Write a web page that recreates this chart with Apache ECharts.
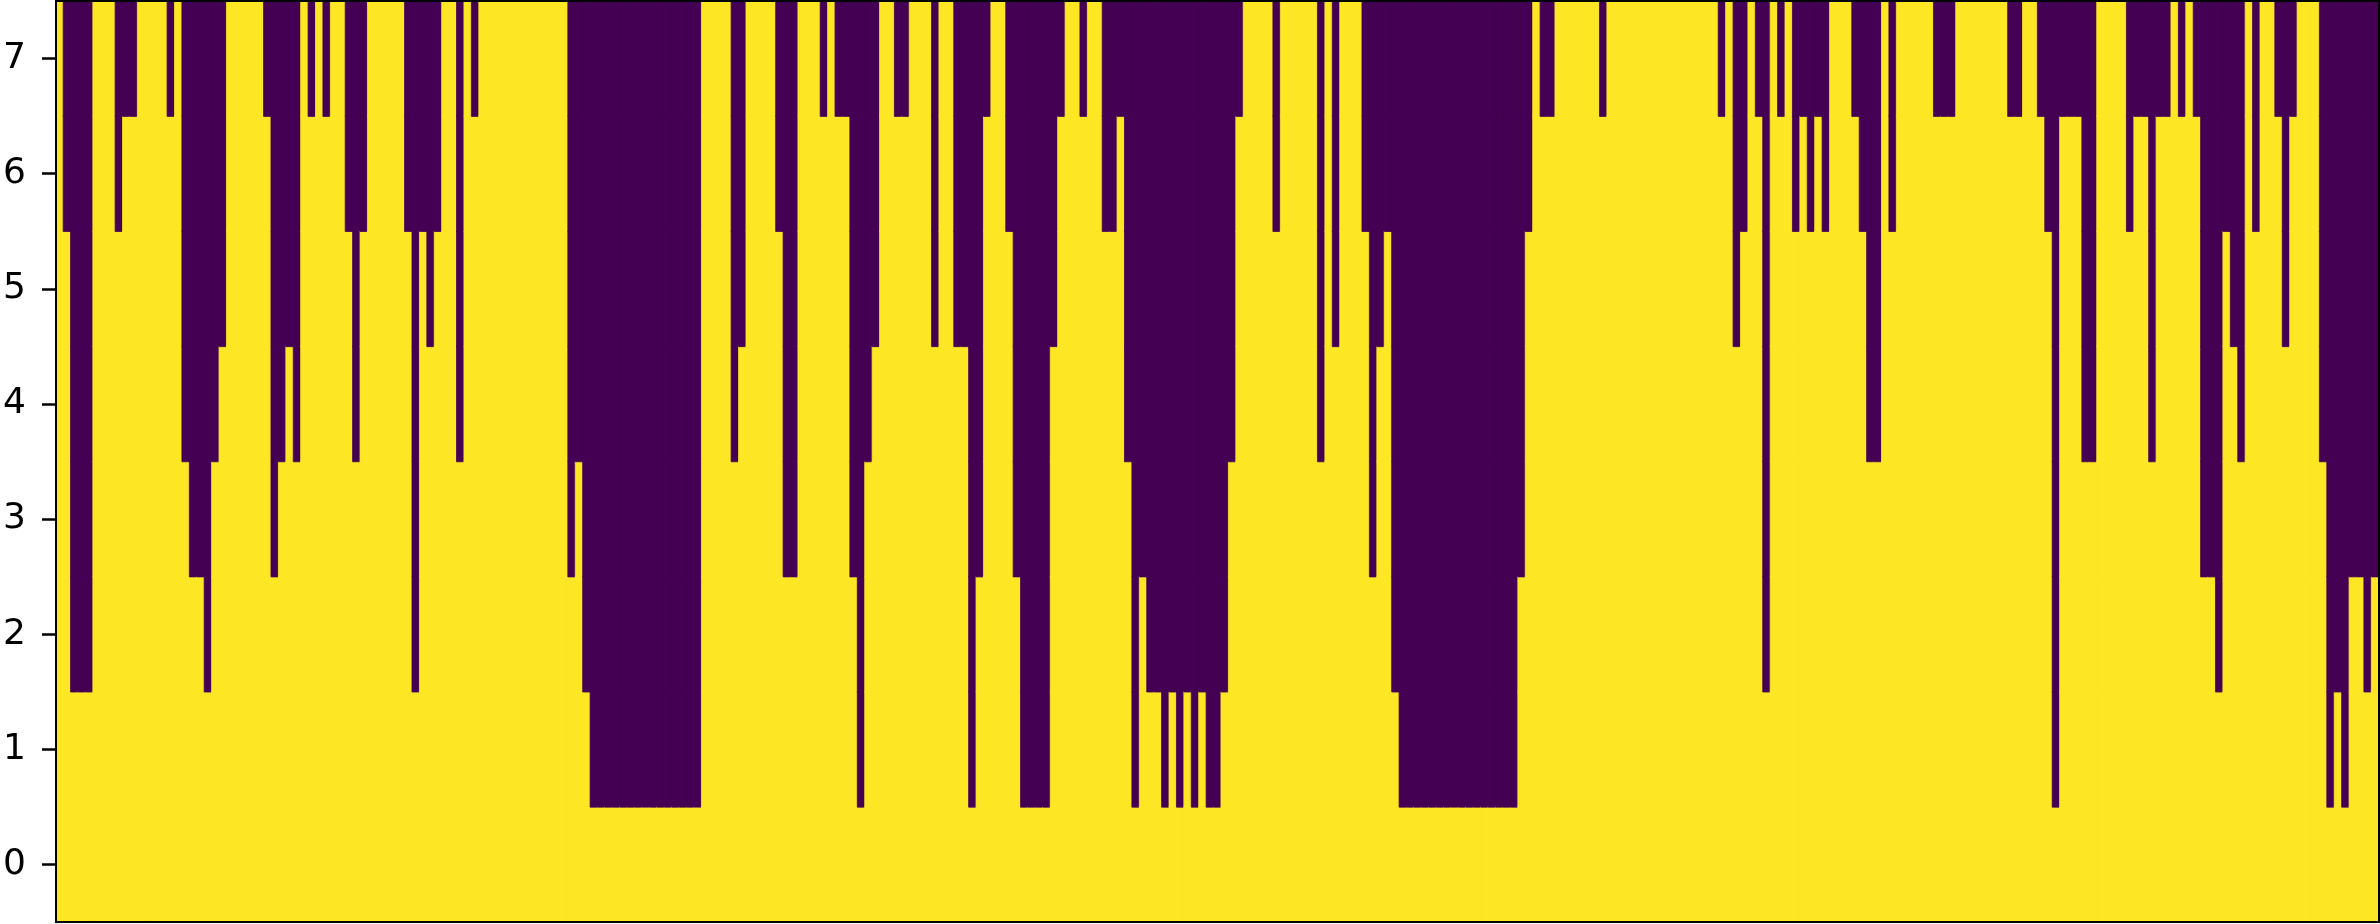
<!DOCTYPE html>
<html>
<head>
<meta charset="utf-8">
<script src="https://cdn.jsdelivr.net/npm/echarts@6/dist/echarts.min.js"></script>
<style>
html,body{margin:0;padding:0;background:#fff;}
#c{width:2380px;height:924px;}
</style>
</head>
<body>
<div id="c"></div>
<script>
// Row labels (y axis ticks)
const rowLabels = ['0','1','2','3','4','5','6','7'];

// For each column: number of yellow cells counted from row 0 upward
// (cells at or above this row index are purple). 8 = fully yellow.
const yellowHeights = [
  8,6,2,2,2,8,8,8,6,7,
  7,8,8,8,8,7,8,4,3,3,
  2,4,5,8,8,8,8,8,7,3,
  4,5,4,8,7,8,7,8,8,6,
  4,6,8,8,8,8,8,6,2,6,
  5,6,8,8,4,8,7,8,8,8,
  8,8,8,8,8,8,8,8,8,3,
  4,2,1,1,1,1,1,1,1,1,
  1,1,1,1,1,1,1,8,8,8,
  8,4,5,8,8,8,8,6,3,3,
  8,8,8,7,8,7,7,3,1,4,
  5,8,8,7,7,8,8,8,5,8,
  8,5,5,1,3,7,8,8,6,3,
  1,1,1,1,5,7,8,8,7,8,
  8,6,6,7,4,1,3,2,2,1,
  2,1,2,1,2,1,1,2,4,7,
  8,8,8,8,6,8,8,8,8,8,
  4,8,5,8,8,8,6,3,5,6,
  2,1,1,1,1,1,1,1,1,1,
  1,1,1,1,1,1,1,3,6,8,
  7,7,8,8,8,8,8,8,7,8,
  8,8,8,8,8,8,8,8,8,8,
  8,8,8,8,7,8,5,6,8,7,
  2,8,7,8,6,7,6,7,6,8,
  8,8,7,6,4,4,8,6,8,8,
  8,8,8,7,7,7,8,8,8,8,
  8,8,8,7,7,8,8,7,6,1,
  7,7,7,4,4,8,8,8,8,6,
  7,7,4,7,7,8,7,8,7,3,
  3,2,6,5,4,8,6,8,8,7,
  5,7,8,8,8,4,1,2,1,3,
  3,2,3
];

const PURPLE = '#440154';
const YELLOW = '#fde725';

const colCategories = yellowHeights.map((_, i) => String(i));
const cells = [];
yellowHeights.forEach((h, i) => {
  for (let r = 0; r < rowLabels.length; r++) {
    const v = r < h ? 1 : 0;
    const c = v ? YELLOW : PURPLE;
    cells.push({ value: [i, r, v], itemStyle: { color: c, borderColor: c, borderWidth: 0.8 } });
  }
});

const lineStyle = { color: '#000', width: 2 };
const chart = echarts.init(document.getElementById('c'), null, { renderer: 'canvas' });
chart.setOption({
  animation: false,
  backgroundColor: '#fff',
  grid: { left: 56, right: 1, top: 1, bottom: 2, containLabel: false },
  xAxis: [
    { type: 'category', data: colCategories, z: 10,
      axisLine: { show: true, onZero: false, lineStyle },
      axisTick: { show: false }, axisLabel: { show: false }, splitLine: { show: false } },
    { type: 'category', data: colCategories, position: 'top', z: 10,
      axisLine: { show: true, onZero: false, lineStyle },
      axisTick: { show: false }, axisLabel: { show: false }, splitLine: { show: false } }
  ],
  yAxis: [
    { type: 'category', data: rowLabels, z: 10,
      axisLine: { show: true, onZero: false, lineStyle },
      axisTick: { show: true, alignWithLabel: true, length: 14, lineStyle: { color: '#000', width: 2.5 } },
      axisLabel: { show: true, fontSize: 36, fontFamily: 'DejaVu Sans', color: '#000', margin: 30 },
      splitLine: { show: false } },
    { type: 'category', data: rowLabels, position: 'right', z: 10,
      axisLine: { show: true, onZero: false, lineStyle },
      axisTick: { show: false }, axisLabel: { show: false }, splitLine: { show: false } }
  ],
  series: [{
    type: 'heatmap',
    xAxisIndex: 0, yAxisIndex: 0,
    data: cells,
    progressive: 0,
    emphasis: { disabled: true }
  }]
});
</script>
</body>
</html>
